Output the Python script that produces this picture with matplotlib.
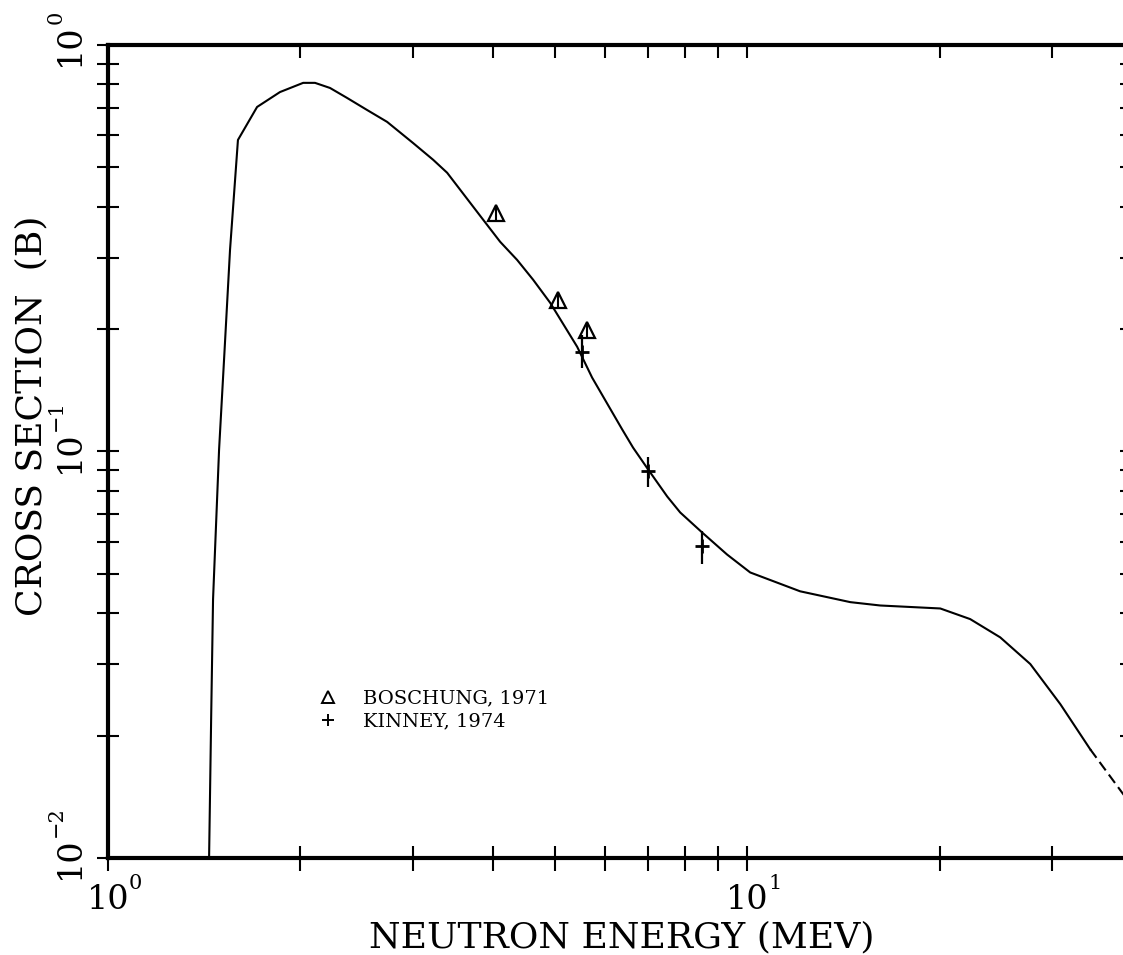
import matplotlib
matplotlib.use("Agg")
import matplotlib.pyplot as plt
from matplotlib.lines import Line2D
from matplotlib.ticker import LogLocator, NullFormatter

plt.rcParams['font.family'] = ['DejaVu Serif']

# ---- data ----
curve_energy = [1.439, 1.450, 1.460, 1.492, 1.522, 1.552, 1.597, 1.711, 1.858,
                2.020, 2.108, 2.225, 2.366, 2.543, 2.733, 3.001, 3.226, 3.393,
                3.687, 3.864, 4.107, 4.366, 4.624, 4.917, 5.420, 5.720,
                6.375, 6.630, 7.000, 7.497, 7.856, 8.503, 9.300, 10.11, 12.10,
                14.50, 16.15, 20.05, 22.33, 24.88, 27.73, 30.90, 34.42, 38.75, 40.0]
curve_sigma = [0.0098, 0.0220, 0.0433, 0.101, 0.178, 0.313, 0.584, 0.704, 0.766,
               0.807, 0.807, 0.784, 0.741, 0.692, 0.647, 0.574, 0.522, 0.485,
               0.409, 0.3715, 0.328, 0.296, 0.2647, 0.2323, 0.181, 0.152,
               0.1133, 0.1022, 0.0903, 0.0775, 0.0708, 0.0632, 0.0558, 0.0504, 0.0453,
               0.0426, 0.0418, 0.0411, 0.0387, 0.0349, 0.0300, 0.0239, 0.0185, 0.01436, 0.0135]

boschung_energy = [4.047, 5.061, 5.618]
boschung_sigma = [0.3867, 0.2363, 0.1994]
boschung_err = [0.0155, 0.0095, 0.0080]

kinney_energy = [5.517, 7.000, 8.503]
kinney_sigma = [0.1761, 0.0893, 0.0584]
kinney_err_low = [0.0152, 0.0073, 0.0056]
kinney_err_high = [0.0177, 0.0079, 0.0052]

legend_labels = ["BOSCHUNG, 1971", "KINNEY, 1974"]
x_label = "NEUTRON ENERGY (MEV)"
y_label = "CROSS SECTION  (B)"
x_tick_values = [1, 10]
x_tick_exps = ["0", "1"]
y_tick_values = [1, 0.1, 0.01]
y_tick_exps = ["0", "\u22121", "\u22122"]

# ---- figure ----
W, H = 1123, 955
fig = plt.figure(figsize=(W / 100, H / 100), dpi=100)
rect = [108 / W, (H - 858) / H, 1024 / W, 813 / H]
ax = fig.add_axes(rect)
ax.set_xscale('log')
ax.set_yscale('log')
ax.set_xlim(1, 40)
ax.set_ylim(0.01, 1)

for s in ax.spines.values():
    s.set_linewidth(3.0)

for axis in (ax.xaxis, ax.yaxis):
    axis.set_major_locator(LogLocator(base=10))
    axis.set_minor_locator(LogLocator(base=10, subs=range(2, 10)))
    axis.set_major_formatter(NullFormatter())
    axis.set_minor_formatter(NullFormatter())

ax.tick_params(axis='x', which='both', direction='inout', length=18, width=1.5,
               bottom=True, top=False, labelbottom=False)
ax.tick_params(axis='y', which='both', direction='inout', length=16, width=1.5,
               left=True, right=False, labelleft=False)

# overlay for inward top / right ticks
ax2 = fig.add_axes(rect, frameon=False)
ax2.set_xscale('log')
ax2.set_yscale('log')
ax2.set_xlim(1, 40)
ax2.set_ylim(0.01, 1)
for axis in (ax2.xaxis, ax2.yaxis):
    axis.set_major_locator(LogLocator(base=10))
    axis.set_minor_locator(LogLocator(base=10, subs=range(2, 10)))
    axis.set_major_formatter(NullFormatter())
    axis.set_minor_formatter(NullFormatter())
ax2.tick_params(which='both', direction='in', length=9, width=1.5,
                left=False, bottom=False, top=True, right=True,
                labelleft=False, labelbottom=False)
ax2.patch.set_visible(False)

# ---- curve ----
split = 35.0
solid_e = [e for e in curve_energy if e <= split]
solid_s = curve_sigma[:len(solid_e)]
dash_e = curve_energy[len(solid_e) - 1:]
dash_s = curve_sigma[len(solid_e) - 1:]
ax.plot(solid_e, solid_s, color='black', lw=1.5)
ax.plot(dash_e, dash_s, color='black', lw=1.5, ls=(0, (5, 2.5)))

# ---- data points ----
ax.errorbar(boschung_energy, boschung_sigma, yerr=boschung_err, fmt='^',
            mfc='none', mec='black', ms=11, mew=1.6, ecolor='black',
            elinewidth=1.5, capsize=0)
ax.errorbar(kinney_energy, kinney_sigma, yerr=[kinney_err_low, kinney_err_high],
            fmt='+', color='black', ms=10, mew=2.0, elinewidth=1.6, capsize=0)

# ---- legend ----
handles = [Line2D([], [], ls='none', marker='^', mfc='none', mec='black', ms=8, mew=1.4),
           Line2D([], [], ls='none', marker='+', color='black', ms=8, mew=1.4)]
ax.legend(handles, legend_labels, loc='center left',
          bbox_to_anchor=((318 - 108) / 1024, (858 - 710) / 813),
          frameon=False, fontsize=14, handlelength=1.0, handletextpad=1.3,
          borderpad=0, borderaxespad=0, labelspacing=0.27)

# ---- tick labels ----
PT = 0.72  # px -> pt
for v, e in zip(x_tick_values, x_tick_exps):
    ax.annotate("10", xy=(v, 0), xycoords=('data', 'axes fraction'),
                xytext=(0, -42 * PT), textcoords='offset points',
                ha='center', va='center', fontsize=24)
    ax.annotate(e, xy=(v, 0), xycoords=('data', 'axes fraction'),
                xytext=(21 * PT, -25 * PT), textcoords='offset points',
                ha='left', va='center', fontsize=15)
for v, e in zip(y_tick_values, y_tick_exps):
    ax.annotate("10", xy=(0, v), xycoords=('axes fraction', 'data'),
                xytext=(-38 * PT, 0), textcoords='offset points',
                ha='center', va='center', fontsize=24, rotation=90)
    ax.annotate(e, xy=(0, v), xycoords=('axes fraction', 'data'),
                xytext=(-52 * PT, 21 * PT), textcoords='offset points',
                ha='center', va='bottom', fontsize=15, rotation=90)

# ---- axis labels ----
ax.set_xlabel(x_label, fontsize=26, va='center', ha='center')
ax.xaxis.set_label_coords((622 - 108) / 1024, (858 - 937) / 813)
ax.set_ylabel(y_label, fontsize=26, va='center', ha='center')
ax.yaxis.set_label_coords((31 - 108) / 1024, (858 - 416) / 813)

fig.savefig("out.png", dpi=100)
